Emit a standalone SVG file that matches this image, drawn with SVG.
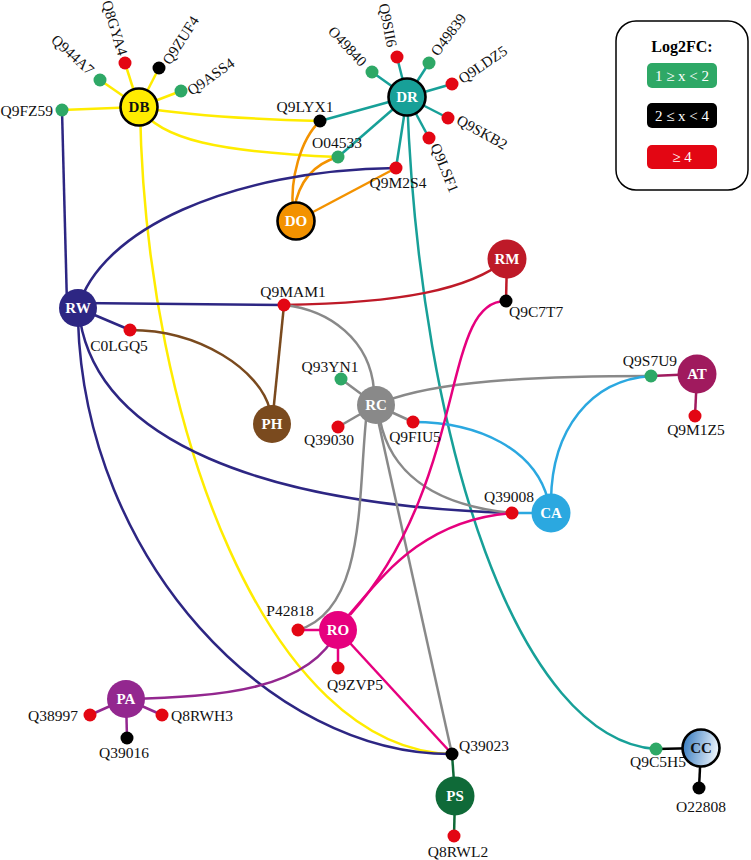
<svg xmlns="http://www.w3.org/2000/svg" width="751" height="860" viewBox="0 0 751 860">
<defs>
<linearGradient id="ccg" x1="0" y1="0" x2="1" y2="0.2">
<stop offset="0" stop-color="#2C74BC"/>
<stop offset="1" stop-color="#E6F0FA"/>
</linearGradient>
<style>
.e{fill:none;stroke-width:2.5}
.lbl{font-family:"Liberation Serif",serif;font-size:15.5px;fill:#111}
.rot{font-size:15px}
.nt{font-family:"Liberation Serif",serif;font-size:15px;font-weight:bold;fill:#fff;text-anchor:middle}
.g{fill:#2EA866}.r{fill:#E30613}.k{fill:#000}
.ol{stroke:#000;stroke-width:2.6}
.y{stroke:#FFEC00}.t{stroke:#17A098}.o{stroke:#F39200}.b{stroke:#2D2683}
.cr{stroke:#BE1A28}.br{stroke:#7A4A1E}.gr{stroke:#898989}.m{stroke:#E6007E}
.lb{stroke:#2BA8E0}.p{stroke:#93278F}.at{stroke:#A01A5E}.ps{stroke:#0F6A38}.bk{stroke:#000}
.mid{text-anchor:middle}.end{text-anchor:end}
.leg{font-family:"Liberation Serif",serif;font-size:15px;fill:#fff;text-anchor:middle}
</style>
</defs>
<rect width="751" height="860" fill="#fff"/>

<g id="connectors">
<path class="e y" d="M139,107 L62,110"/>
<path class="e y" d="M139,107 L100,80"/>
<path class="e y" d="M139,107 L125,63"/>
<path class="e y" d="M139,107 L159,68"/>
<path class="e y" d="M139,107 L181,91"/>
<path class="e y" d="M139,107 Q200,118 320,121"/>
<path class="e y" d="M139,107 C160,140 220,152 338,157"/>
<path class="e y" d="M140,107 C145,430 270,750 452,754"/>
<path class="e t" d="M407,97 L372,72"/>
<path class="e t" d="M407,97 L397,57"/>
<path class="e t" d="M407,97 L429,63"/>
<path class="e t" d="M407,97 L452,84"/>
<path class="e t" d="M407,97 L448,118"/>
<path class="e t" d="M407,97 L429,138"/>
<path class="e t" d="M407,97 L320,121"/>
<path class="e t" d="M407,97 L338,157"/>
<path class="e t" d="M407,97 L396,168"/>
<path class="e t" d="M407,97 C420,450 520,740 656,749"/>
<path class="e o" d="M320,121 C300,140 290,180 293,210"/>
<path class="e o" d="M338,157 C310,165 298,185 294,210"/>
<path class="e o" d="M296,221 L396,168"/>
<path class="e b" d="M62,110 L67,305"/>
<path class="e b" d="M78,308 C100,230 230,170 396,168"/>
<path class="e b" d="M78,303 L284,305"/>
<path class="e b" d="M78,308 L130,330"/>
<path class="e b" d="M80,320 C100,440 260,505 512,513"/>
<path class="e b" d="M78,320 C85,560 270,755 452,754"/>
<path class="e cr" d="M507,259 C470,290 400,303 284,305"/>
<path class="e cr" d="M507,259 L506,301"/>
<path class="e br" d="M272,424 L284,305"/>
<path class="e br" d="M130,330 C200,330 260,370 270,410"/>
<path class="e gr" d="M284,305 C330,310 370,340 374,390"/>
<path class="e gr" d="M376,405 L341,379"/>
<path class="e gr" d="M376,405 L338,427"/>
<path class="e gr" d="M376,405 L413,422"/>
<path class="e gr" d="M376,405 C420,385 500,376 651,376"/>
<path class="e gr" d="M380,420 C390,470 430,505 512,513"/>
<path class="e gr" d="M366,420 C358,500 365,610 298,630"/>
<path class="e gr" d="M378,420 L452,754"/>
<path class="e at" d="M697,374 L651,376"/>
<path class="e at" d="M697,374 L695,416"/>
<path class="e lb" d="M551,513 L512,513"/>
<path class="e lb" d="M413,422 C480,422 535,450 548,500"/>
<path class="e lb" d="M551,500 C552,430 590,380 651,376"/>
<path class="e m" d="M506,301 C440,300 470,480 350,615"/>
<path class="e m" d="M347,617 C380,580 420,520 512,513"/>
<path class="e m" d="M338,630 L298,630"/>
<path class="e m" d="M338,630 L338,668"/>
<path class="e m" d="M338,630 L452,754"/>
<path class="e p" d="M126,699 C220,697 310,690 338,630"/>
<path class="e p" d="M126,699 L90,715"/>
<path class="e p" d="M126,699 L162,715"/>
<path class="e p" d="M126,699 L127,738"/>
<path class="e ps" d="M455,796 L452,754"/>
<path class="e ps" d="M455,796 L454,836"/>
<path class="e bk" d="M701,748 L656,749"/>
<path class="e bk" d="M701,748 L699,788"/>
</g>

<g id="Q9FZ59"><circle class="g" cx="62" cy="110" r="6.5"/><text class="lbl end" x="53" y="116">Q9FZ59</text></g>
<g id="Q944A7"><circle class="g" cx="100" cy="80" r="6.5"/><text class="lbl rot end" transform="translate(92,72) rotate(42)" y="5">Q944A7</text></g>
<g id="Q8GYA4"><circle class="r" cx="125" cy="63" r="6.5"/><text class="lbl rot end" transform="translate(123,55) rotate(73)" y="5">Q8GYA4</text></g>
<g id="Q9ZUF4"><circle class="k" cx="159" cy="68" r="6.5"/><text class="lbl rot" transform="translate(166,63) rotate(-57)" y="5">Q9ZUF4</text></g>
<g id="Q9ASS4"><circle class="g" cx="181" cy="91" r="6.5"/><text class="lbl rot" transform="translate(189,92) rotate(-35)" y="5">Q9ASS4</text></g>
<g id="O49840"><circle class="g" cx="372" cy="72" r="6.5"/><text class="lbl rot end" transform="translate(364,64) rotate(47)" y="5">O49840</text></g>
<g id="Q9SII6"><circle class="r" cx="397" cy="57" r="6.5"/><text class="lbl rot end" transform="translate(392,47) rotate(79)" y="5">Q9SII6</text></g>
<g id="O49839"><circle class="g" cx="429" cy="63" r="6.5"/><text class="lbl rot" transform="translate(434,54) rotate(-53)" y="5">O49839</text></g>
<g id="Q9LDZ5"><circle class="r" cx="452" cy="84" r="6.5"/><text class="lbl rot" transform="translate(460,80) rotate(-34)" y="5">Q9LDZ5</text></g>
<g id="Q9SKB2"><circle class="r" cx="448" cy="118" r="6.5"/><text class="lbl rot" transform="translate(458,119) rotate(29)" y="5">Q9SKB2</text></g>
<g id="Q9LSF1"><circle class="r" cx="429" cy="138" r="6.5"/><text class="lbl rot" transform="translate(435,144) rotate(68)" y="5">Q9LSF1</text></g>
<g id="Q9LYX1"><circle class="k" cx="320" cy="121" r="6.5"/><text class="lbl mid" x="305" y="112">Q9LYX1</text></g>
<g id="O04533"><circle class="g" cx="338" cy="157" r="6.5"/><text class="lbl mid" x="337" y="148">O04533</text></g>
<g id="Q9M2S4"><circle class="r" cx="396" cy="168" r="6.5"/><text class="lbl mid" x="398" y="188">Q9M2S4</text></g>
<g id="Q9MAM1"><circle class="r" cx="284" cy="305" r="6.5"/><text class="lbl mid" x="293" y="297">Q9MAM1</text></g>
<g id="C0LGQ5"><circle class="r" cx="130" cy="330" r="6.5"/><text class="lbl mid" x="119" y="351">C0LGQ5</text></g>
<g id="Q9C7T7"><circle class="k" cx="506" cy="301" r="6.5"/><text class="lbl" x="509" y="317">Q9C7T7</text></g>
<g id="Q93YN1"><circle class="g" cx="341" cy="379" r="6.5"/><text class="lbl mid" x="330" y="372">Q93YN1</text></g>
<g id="Q39030"><circle class="r" cx="338" cy="427" r="6.5"/><text class="lbl mid" x="329" y="445">Q39030</text></g>
<g id="Q9FIU5"><circle class="r" cx="413" cy="422" r="6.5"/><text class="lbl mid" x="415" y="442">Q9FIU5</text></g>
<g id="Q9S7U9"><circle class="g" cx="651" cy="376" r="6.5"/><text class="lbl mid" x="650" y="366">Q9S7U9</text></g>
<g id="Q9M1Z5"><circle class="r" cx="695" cy="416" r="6.5"/><text class="lbl mid" x="696" y="435">Q9M1Z5</text></g>
<g id="Q39008"><circle class="r" cx="512" cy="513" r="6.5"/><text class="lbl mid" x="509" y="502">Q39008</text></g>
<g id="P42818"><circle class="r" cx="298" cy="630" r="6.5"/><text class="lbl mid" x="290" y="616">P42818</text></g>
<g id="Q9ZVP5"><circle class="r" cx="338" cy="668" r="6.5"/><text class="lbl mid" x="355" y="690">Q9ZVP5</text></g>
<g id="Q38997"><circle class="r" cx="90" cy="715" r="6.5"/><text class="lbl end" x="78" y="721">Q38997</text></g>
<g id="Q8RWH3"><circle class="r" cx="162" cy="715" r="6.5"/><text class="lbl" x="171" y="721">Q8RWH3</text></g>
<g id="Q39016"><circle class="k" cx="127" cy="738" r="6.5"/><text class="lbl mid" x="124" y="758">Q39016</text></g>
<g id="Q39023"><circle class="k" cx="452" cy="754" r="6.5"/><text class="lbl" x="459" y="751">Q39023</text></g>
<g id="Q8RWL2"><circle class="r" cx="454" cy="836" r="6.5"/><text class="lbl mid" x="458" y="857">Q8RWL2</text></g>
<g id="Q9C5H5"><circle class="g" cx="656" cy="749" r="6.5"/><text class="lbl mid" x="658" y="767">Q9C5H5</text></g>
<g id="O22808"><circle class="k" cx="699" cy="788" r="6.5"/><text class="lbl mid" x="701" y="812">O22808</text></g>

<g id="DB"><circle cx="139" cy="107" r="18.5" fill="#FFEC00" class="ol"/><text class="nt" x="139" y="112" style="fill:#111">DB</text></g>
<g id="DR"><circle cx="407" cy="97" r="18.5" fill="#17A098" class="ol"/><text class="nt" x="407" y="102">DR</text></g>
<g id="DO"><circle cx="296" cy="221" r="18.5" fill="#F39200" class="ol"/><text class="nt" x="296" y="226">DO</text></g>
<g id="RW"><circle cx="78" cy="308" r="19" fill="#2D2683"/><text class="nt" x="78" y="313">RW</text></g>
<g id="RM"><circle cx="507" cy="259" r="19.5" fill="#BE1A28"/><text class="nt" x="507" y="264">RM</text></g>
<g id="PH"><circle cx="272" cy="424" r="19" fill="#7A4A1E"/><text class="nt" x="272" y="429">PH</text></g>
<g id="RC"><circle cx="376" cy="405" r="19" fill="#898989"/><text class="nt" x="376" y="410">RC</text></g>
<g id="AT"><circle cx="697" cy="374" r="19.5" fill="#A01A5E"/><text class="nt" x="697" y="379">AT</text></g>
<g id="CA"><circle cx="551" cy="513" r="19.5" fill="#2BA8E0"/><text class="nt" x="551" y="518">CA</text></g>
<g id="RO"><circle cx="338" cy="630" r="19" fill="#E6007E"/><text class="nt" x="338" y="635">RO</text></g>
<g id="PA"><circle cx="126" cy="699" r="19" fill="#93278F"/><text class="nt" x="126" y="704">PA</text></g>
<g id="PS"><circle cx="455" cy="796" r="19.5" fill="#0F6A38"/><text class="nt" x="455" y="801">PS</text></g>
<g id="CC"><circle cx="701" cy="748" r="18.5" fill="url(#ccg)" class="ol"/><text class="nt" x="701" y="753" style="fill:#111">CC</text></g>

<g id="legend">
<rect x="616" y="21" width="132" height="169" rx="20" fill="#fff" stroke="#000" stroke-width="1.5"/>
<text x="682" y="52" style="font-family:'Liberation Serif',serif;font-size:16px;font-weight:bold;text-anchor:middle;fill:#000">Log2FC:</text>
<rect x="647" y="63" width="70" height="25" rx="5" fill="#2EA866"/>
<text class="leg" x="682" y="81">1 ≥ x &lt; 2</text>
<rect x="647" y="103" width="70" height="25" rx="5" fill="#000"/>
<text class="leg" x="682" y="121">2 ≤ x &lt; 4</text>
<rect x="647" y="145" width="70" height="24" rx="5" fill="#E30613"/>
<text class="leg" x="682" y="162">≥ 4</text>
</g>
</svg>
